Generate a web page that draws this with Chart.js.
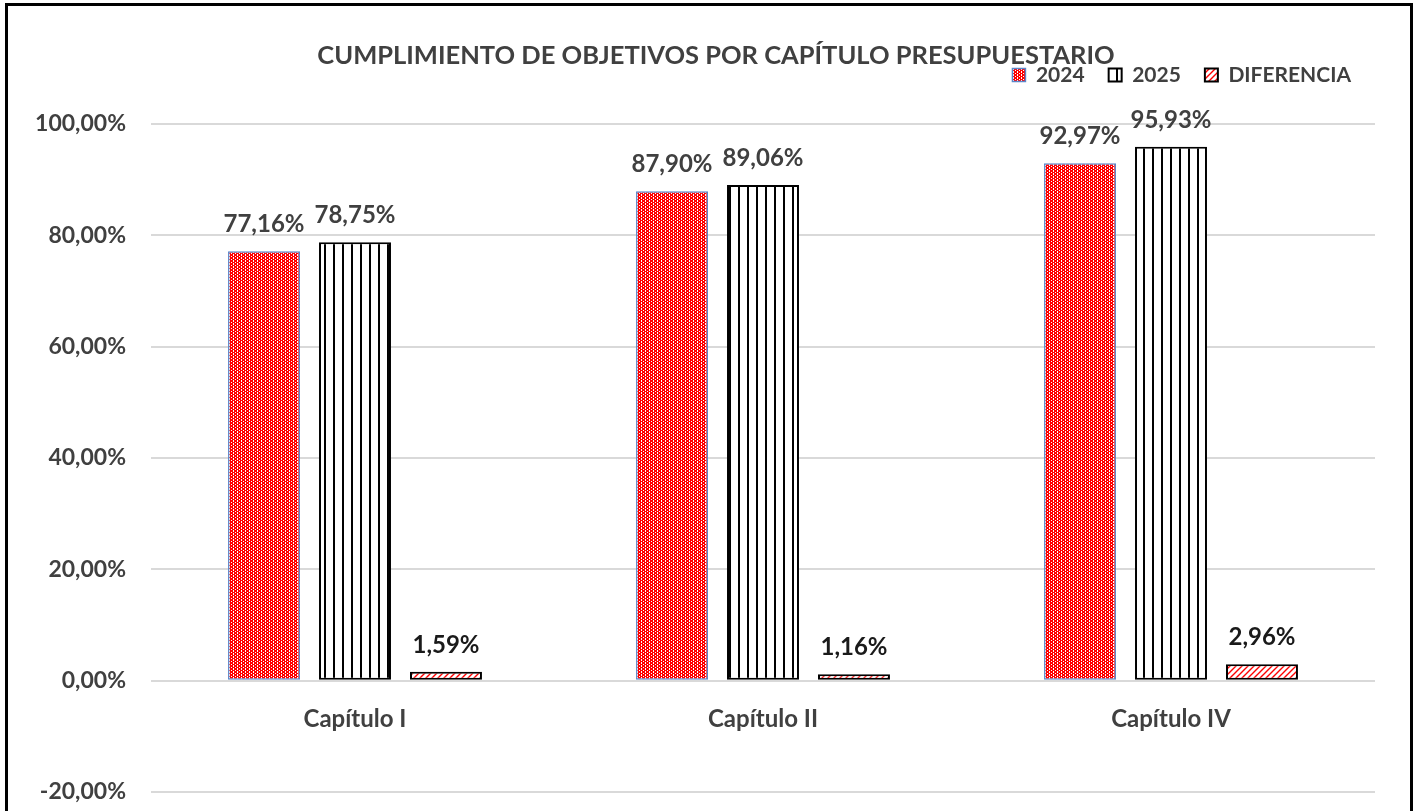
<!DOCTYPE html>
<html>
<head>
<meta charset="utf-8">
<script src="https://cdn.jsdelivr.net/npm/chart.js@4.4.1/dist/chart.umd.min.js"></script>
<style>
  body { margin: 0; background: #fff; }
  #wrap { width: 1413px; height: 811px; }
</style>
</head>
<body>
<div id="wrap"><canvas id="cumplimientoChart" width="1413" height="811"></canvas></div>
<script>
const capitulos = ["Capítulo I", "Capítulo II", "Capítulo IV"]
const serie2024 = [77.16, 87.90, 92.97]
const serie2025 = [78.75, 89.06, 95.93]
const diferencia = [1.59, 1.16, 2.96]
const yTicks = [-20, 0, 20, 40, 60, 80, 100]

const FONT = "Lato, 'Open Sans', sans-serif"

function fmt(v){
  return v.toFixed(2).replace('.', ',') + '%'
}

// patrones de relleno
function makePattern(w, h, draw){
  const c = document.createElement('canvas')
  c.width = w; c.height = h
  const g = c.getContext('2d')
  draw(g)
  return g.createPattern(c, 'repeat')
}

const pat2024 = makePattern(4, 3, function(g){
  g.fillStyle = '#ff0000'
  g.fillRect(0, 0, 4, 3)
  g.fillStyle = '#ffffff'
  g.fillRect(1, 0, 1, 1)
  g.fillRect(3, 1, 1, 1)
  g.fillRect(1, 2, 1, 1)
})
const pat2025 = makePattern(9, 4, function(g){
  g.fillStyle = '#ffffff'
  g.fillRect(0, 0, 9, 4)
  g.fillStyle = '#000000'
  g.fillRect(0, 0, 2, 4)
})
const patDif = makePattern(6, 6, function(g){
  g.fillStyle = '#ffffff'
  g.fillRect(0, 0, 6, 6)
  g.strokeStyle = '#ff0000'
  g.lineWidth = 1.4
  g.beginPath()
  g.moveTo(-1, 7); g.lineTo(7, -1)
  g.moveTo(-1, 1); g.lineTo(1, -1)
  g.moveTo(5, 7); g.lineTo(7, 5)
  g.stroke()
})

const TITLE_PAD_TOP = 40, TITLE_PAD_BOTTOM = -30, TITLE_SIZE = 25.5
const PLOT_TOP = 124

function noPadding(scale){
  scale.paddingTop = 0
  scale.paddingBottom = 0
  scale.paddingLeft = 0
  scale.paddingRight = 0
}

const frame = {
  id: 'frame',
  beforeLayout(chart){
    const lg = chart.legend
    if (lg && !lg._patched){
      const fit = lg.fit
      lg.fit = function(){
        fit.call(this)
        this.height = PLOT_TOP - (TITLE_PAD_TOP + TITLE_SIZE * 1.2 + TITLE_PAD_BOTTOM)
      }
      lg._patched = true
    }
  },
  afterLayout(chart){
    // el título de Excel está centrado algo más a la derecha
    if (chart.titleBlock){
      chart.titleBlock.left = 57
    }
  },
  beforeDraw(chart){
    const c = chart.ctx
    c.save()
    c.fillStyle = '#fff'
    c.fillRect(0, 0, chart.width, chart.height)
    c.restore()
  },
  afterDraw(chart){
    const c = chart.ctx
    c.save()
    c.strokeStyle = '#000'
    c.lineWidth = 3
    c.beginPath()
    c.moveTo(6.5, chart.height)
    c.lineTo(6.5, 4.5)
    c.lineTo(1411.5, 4.5)
    c.lineTo(1411.5, chart.height)
    c.stroke()
    c.restore()
  }
}

const valueLabels = {
  id: 'valueLabels',
  afterDatasetsDraw(chart){
    const c = chart.ctx
    c.save()
    c.font = 'bold 24px ' + FONT
    c.textAlign = 'center'
    c.textBaseline = 'alphabetic'
    chart.data.datasets.forEach(function(ds, i){
      const meta = chart.getDatasetMeta(i)
      c.fillStyle = i == 2 ? '#1a1a1a' : '#404040'
      meta.data.forEach(function(bar, j){
        c.fillText(fmt(ds.data[j]), bar.x, bar.y - 19)
      })
    })
    c.restore()
  }
}

const ctx = document.getElementById('cumplimientoChart')
new Chart(ctx, {
  type: 'bar',
  data: {
    labels: capitulos,
    datasets: [{
      label: '2024',
      data: serie2024,
      backgroundColor: pat2024,
      borderColor: '#5b86c9',
      borderWidth: 1.5,
      borderSkipped: false
    },
    {
      label: '2025',
      data: serie2025,
      backgroundColor: pat2025,
      borderColor: '#000000',
      borderWidth: 2,
      borderSkipped: false
    },
    {
      label: 'DIFERENCIA',
      data: diferencia,
      backgroundColor: patDif,
      borderColor: '#000000',
      borderWidth: 2,
      borderSkipped: false
    }]
  },
  options: {
    responsive: false,
    animation: false,
    categoryPercentage: 0.669,
    barPercentage: 0.791,
    layout: { padding: { left: 0, right: 38, top: 0, bottom: 19 } },
    plugins: {
      title: {
        display: true,
        text: 'CUMPLIMIENTO DE OBJETIVOS POR CAPÍTULO PRESUPUESTARIO',
        color: '#404040',
        font: { family: FONT, size: TITLE_SIZE, weight: 'bold' },
        padding: { top: TITLE_PAD_TOP, bottom: TITLE_PAD_BOTTOM }
      },
      legend: {
        display: true,
        position: 'top',
        align: 'end',
        labels: {
          color: '#404040',
          font: { family: FONT, size: 21, weight: 'bold' },
          boxWidth: 13,
          boxHeight: 13,
          padding: 24
        }
      },
      tooltip: { enabled: false }
    },
    scales: {
      x: {
        position: { y: 0 },
        afterFit: function(scale){ scale.height = 0; noPadding(scale) },
        grid: { display: false },
        border: { display: false },
        ticks: {
          color: '#404040',
          font: { family: FONT, size: 24, weight: 'bold' },
          padding: 16
        }
      },
      y: {
        min: -20,
        max: 100,
        afterFit: function(scale){ scale.width = 151; noPadding(scale) },
        afterBuildTicks: function(scale){ scale.ticks = yTicks.map(function(v){ return { value: v } }) },
        grid: { color: '#d9d9d9', lineWidth: 2, drawTicks: false },
        border: { display: false },
        ticks: {
          color: '#404040',
          font: { family: FONT, size: 23, weight: 'bold' },
          padding: 25,
          callback: function(v){ return fmt(v) }
        }
      }
    }
  },
  plugins: [frame, valueLabels]
});
</script>
</body>
</html>
